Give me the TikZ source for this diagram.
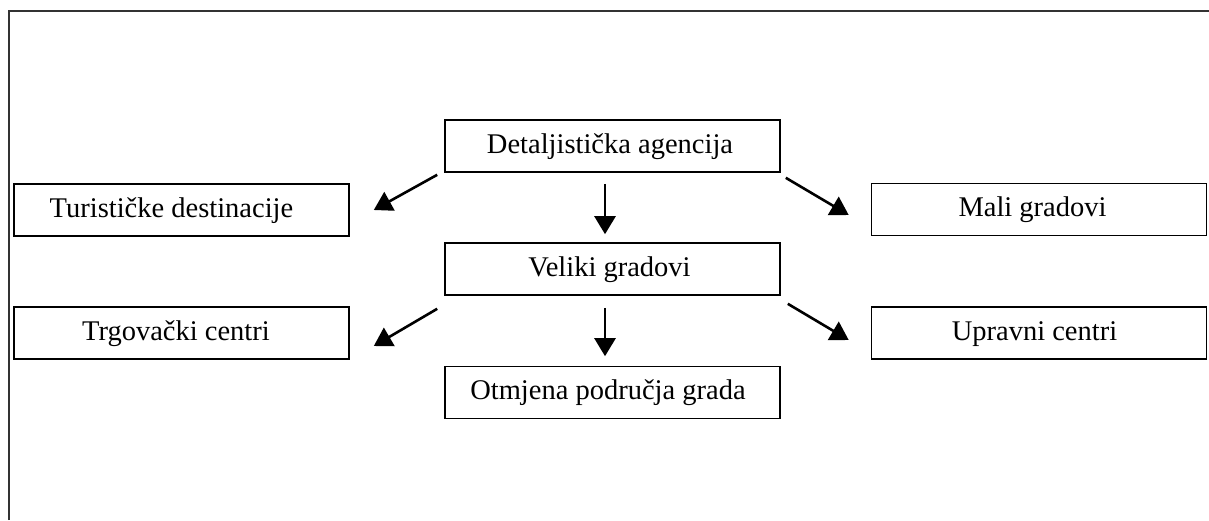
\documentclass[tikz,border=0pt]{standalone}
\usepackage{fontspec}
\setmainfont{Liberation Serif}
\usetikzlibrary{arrows.meta,calc}
\begin{document}
\begin{tikzpicture}[x=1pt,y=-1pt,
  box/.style={draw=black,line width=1.6pt,minimum width=335pt,minimum height=52pt,
    inner sep=0pt,text height=20pt,text depth=6pt,
    font=\fontsize{28.5}{34}\selectfont,anchor=center},
  tx/.style={execute at end node={\hspace*{#1}}},
  arr/.style={line width=2.6pt,-{Triangle[length=18pt,width=21pt]}}]
\useasboundingbox (0,0) rectangle (1209,520);
\fill[white] (0,0) rectangle (1209,520);
% outer frame (left and top edges only)
\draw[line width=2.4pt,black!80] (9,520) -- (9,11) -- (1209,11);
% nodes
\node[box,tx=5pt]  (top)  at (612.5,146)  {Detaljistička agencija};
\node[box,tx=6pt]  (vel)  at (612.5,269)  {Veliki gradovi};
\node[box,tx=9pt]  (otm)  at (612.5,392.5){Otmjena područja grada};
\node[box,tx=20pt] (tur)  at (181.5,210)  {Turističke destinacije};
\node[box,tx=11pt] (trg)  at (181.5,333)  {Trgovački centri};
\node[box,tx=13pt] (mali) at (1039,209.5) {Mali gradovi};
\node[box,tx=9pt]  (upr)  at (1039,333)   {Upravni centri};
% arrows row 1
\draw[arr] ($(top.south west)+(-7,2)$) -- ($(tur.east)+(24,0)$);
\draw[arr] ($(top.south)+(-7.5,11)$) -- ($(vel.north)+(-7.5,-8)$);
\draw[arr] ($(top.south east)+(5,5)$) -- ($(mali.west)+(-22,5.5)$);
% arrows row 2
\draw[arr] ($(vel.south west)+(-7,13)$) -- ($(trg.east)+(24,13)$);
\draw[arr] ($(vel.south)+(-7.5,12)$) -- ($(otm.north)+(-7.5,-9.5)$);
\draw[arr] ($(vel.south east)+(7,8)$) -- ($(upr.west)+(-22,7)$);
\end{tikzpicture}
\end{document}
